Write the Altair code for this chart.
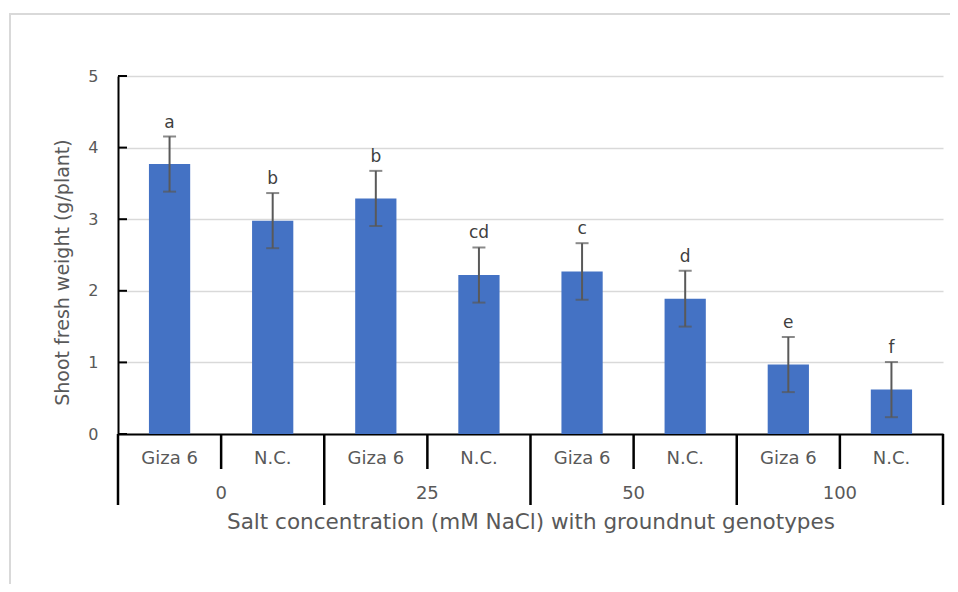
import altair as alt
import pandas as pd

# ---- data ----
salt = ["0", "0", "25", "25", "50", "50", "100", "100"]
genotype = ["Giza 6", "N.C.", "Giza 6", "N.C.", "Giza 6", "N.C.", "Giza 6", "N.C."]
weight = [3.77, 2.98, 3.29, 2.22, 2.27, 1.89, 0.97, 0.62]
err = [0.385, 0.385, 0.385, 0.385, 0.395, 0.39, 0.385, 0.385]
letters = ["a", "b", "b", "cd", "c", "d", "e", "f"]
y_ticks = [0, 1, 2, 3, 4, 5]

df = pd.DataFrame({
    "idx": list(range(len(salt))),
    "salt": salt,
    "genotype": genotype,
    "weight": weight,
    "err": err,
    "letter": letters,
})

# category boundaries (short between genotypes, long between salt groups)
bounds = []
for i in range(len(salt) + 1):
    long_ = i == 0 or i == len(salt) or salt[i] != salt[i - 1]
    bounds.append({"pos": i - 0.5, "long": long_})
bdf = pd.DataFrame(bounds)

GRAY = "#595959"
FONT = "DejaVu Sans"
XTITLE = "Salt concentration (mM NaCl) with groundnut genotypes"
YTITLE = "Shoot fresh weight  (g/plant)"
xs = alt.Scale(domain=[-0.5, len(salt) - 0.5], nice=False, zero=False)
ys = alt.Scale(domain=[0, 5], nice=False)

x_axis = alt.Axis(labels=False, ticks=False, grid=False, domainColor="black",
                  domainWidth=2, title=XTITLE,
                  titleFont=FONT, titleFontSize=21.5, titleFontWeight="normal",
                  titleColor=GRAY, titleY=88, titleBaseline="middle")
y_axis = alt.Axis(values=y_ticks, ticks=False, domainColor="black", domainWidth=2,
                  grid=True, gridColor="#d9d9d9", gridWidth=1.5,
                  labelColor=GRAY, labelFont=FONT, labelFontSize=16, labelPadding=20,
                  title=YTITLE, titleFont=FONT,
                  titleFontSize=19, titleFontWeight="normal", titleColor=GRAY,
                  titleX=-56, titleY=196, titleAngle=270,
                  titleAlign="center", titleBaseline="middle")


def X(field):
    return alt.X(field, scale=xs, axis=x_axis, title=XTITLE)


def Y(field):
    return alt.Y(field, scale=ys, axis=y_axis, title=YTITLE)


frame = alt.Chart(pd.DataFrame({"a": [0]})).mark_rect(
    fillOpacity=0, stroke="#d9d9d9", strokeWidth=2
).encode(x=alt.value(-108), x2=alt.value(900), y=alt.value(-62), y2=alt.value(560))

bars = alt.Chart(df).transform_calculate(
    x0="datum.idx - 0.2", x1="datum.idx + 0.2"
).mark_bar(color="#4472C4").encode(
    x=X("x0:Q"),
    x2="x1:Q",
    y=Y("weight:Q"),
    y2=alt.datum(0),
)

eb = alt.Chart(df).transform_calculate(
    lo="datum.weight - datum.err", hi="datum.weight + datum.err"
)
err_rule = eb.mark_rule(color=GRAY, strokeWidth=2).encode(
    x=X("idx:Q"), y=Y("lo:Q"), y2="hi:Q",
)
cap_lo = eb.mark_tick(color=GRAY, orient="horizontal", size=13, thickness=2).encode(
    x=X("idx:Q"), y=Y("lo:Q"),
)
cap_hi = eb.mark_tick(color=GRAY, orient="horizontal", size=13, thickness=2).encode(
    x=X("idx:Q"), y=Y("hi:Q"),
)
letter_t = eb.mark_text(color="#404040", font=FONT, fontSize=17,
                        baseline="alphabetic", dy=-9).encode(
    x=X("idx:Q"), y=Y("hi:Q"), text="letter:N",
)

yt = alt.Chart(pd.DataFrame({"v": y_ticks})).mark_rule(color="black", strokeWidth=2).encode(
    x=alt.value(0), x2=alt.value(9), y=Y("v:Q"),
)

sep_short = alt.Chart(bdf[~bdf["long"]]).mark_rule(color="black", strokeWidth=2.5).encode(
    x=X("pos:Q"), y=alt.value(358), y2=alt.value(393),
)
sep_long = alt.Chart(bdf[bdf["long"]]).mark_rule(color="black", strokeWidth=2.5).encode(
    x=X("pos:Q"), y=alt.value(358), y2=alt.value(429),
)

geno_t = alt.Chart(df).mark_text(color=GRAY, font=FONT, fontSize=18,
                                 baseline="middle").encode(
    x=X("idx:Q"), y=alt.value(383), text="genotype:N",
)
grp_t = alt.Chart(df).transform_aggregate(
    mid="mean(idx)", groupby=["salt"]
).mark_text(color=GRAY, font=FONT, fontSize=18, baseline="middle").encode(
    x=X("mid:Q"), y=alt.value(418), text="salt:N",
)

chart = alt.layer(
    frame, bars, err_rule, cap_lo, cap_hi, letter_t, yt, sep_short, sep_long, geno_t, grp_t
).properties(
    width=825, height=358,
    padding={"left": 110, "top": 68, "right": 7, "bottom": 150},
    autosize=alt.AutoSizeParams(type="none"),
).configure(font=FONT).configure_view(stroke=None)

chart.save("out.html", embed_options={"renderer": "svg", "actions": False})
